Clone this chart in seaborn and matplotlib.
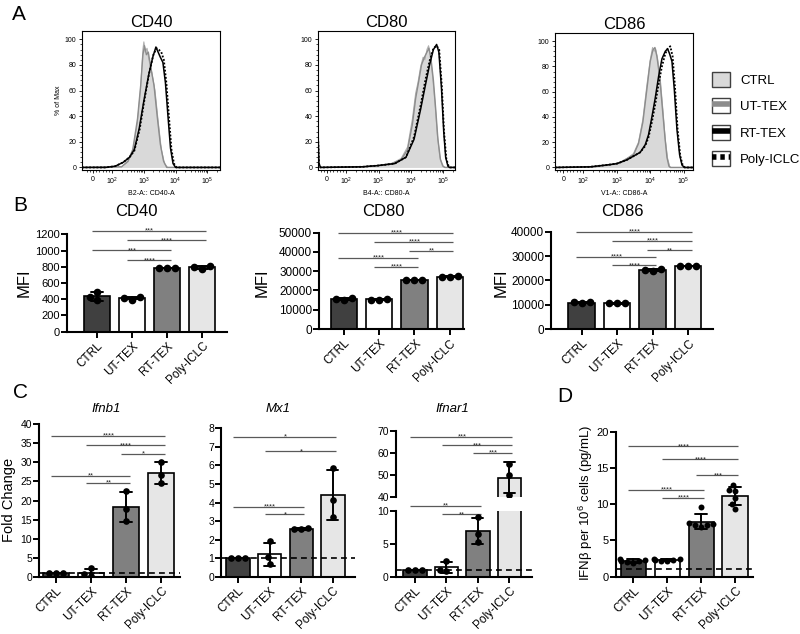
import numpy as np
import pandas as pd
import matplotlib
matplotlib.use('Agg')
import matplotlib.pyplot as plt
import seaborn as sns
from matplotlib.patches import Patch
from matplotlib.lines import Line2D
from matplotlib.legend_handler import HandlerTuple

# groups and colours
groups = ['CTRL', 'UT-TEX', 'RT-TEX', 'Poly-ICLC']
bar_colors = ['#404040', '#ffffff', '#808080', '#e6e6e6']

# A: flow histograms, (log10 position, % of max); 0 sits at ~1.4
cd40_ctrl = [(1.05, 0), (2.3, 0.5), (2.5, 4), (2.65, 12), (2.8, 35), (2.9, 62), (2.97, 92), (3.0, 98), (3.04, 90),
             (3.1, 93), (3.16, 84), (3.25, 74), (3.35, 60), (3.45, 36), (3.55, 14), (3.65, 3), (3.75, 0), (5.4, 0)]
cd40_ut = [(1.05, 0), (2.3, 0.5), (2.5, 5), (2.65, 14), (2.8, 38), (2.9, 64), (2.97, 88), (3.02, 95), (3.08, 88),
           (3.14, 90), (3.22, 78), (3.32, 64), (3.42, 40), (3.52, 18), (3.62, 5), (3.72, 0), (5.4, 0)]
cd40_rt = [(1.05, 0), (1.8, 0), (2.1, 1), (2.35, 4), (2.55, 8), (2.7, 14), (2.85, 30), (3.0, 52), (3.15, 72),
           (3.28, 86), (3.38, 94), (3.45, 90), (3.52, 86), (3.6, 82), (3.68, 66), (3.76, 40), (3.84, 15),
           (3.92, 3), (4.0, 0), (5.4, 0)]
cd40_poly = [(1.05, 0), (1.8, 0), (2.1, 1), (2.35, 4), (2.55, 8), (2.7, 13), (2.87, 30), (3.02, 53), (3.17, 74),
             (3.3, 88), (3.4, 93), (3.47, 92), (3.55, 90), (3.63, 84), (3.71, 66), (3.79, 40), (3.87, 14),
             (3.95, 3), (4.03, 0), (5.4, 0)]

cd80_ctrl = [(1.12, 0), (2.5, 0.5), (3.0, 1.5), (3.4, 3), (3.7, 7), (3.9, 16), (4.05, 38), (4.15, 58), (4.22, 66),
             (4.3, 78), (4.38, 86), (4.44, 84), (4.5, 92), (4.55, 95), (4.6, 88), (4.68, 70), (4.75, 50),
             (4.82, 26), (4.9, 8), (4.98, 1), (5.05, 0), (5.37, 0)]
cd80_ut = [(1.12, 0), (2.5, 0.5), (3.0, 1.5), (3.4, 3), (3.7, 6), (3.9, 14), (4.05, 34), (4.15, 54), (4.25, 68),
           (4.33, 80), (4.42, 86), (4.5, 90), (4.56, 93), (4.62, 86), (4.7, 68), (4.77, 46), (4.84, 22),
           (4.92, 6), (5.0, 1), (5.06, 0), (5.37, 0)]
cd80_rt = [(1.12, 28), (1.15, 3), (1.2, 0), (2.5, 0.5), (3.0, 1.5), (3.5, 3), (3.85, 8), (4.1, 22), (4.3, 45),
           (4.45, 64), (4.58, 80), (4.7, 92), (4.8, 96), (4.87, 90), (4.95, 62), (5.02, 28), (5.08, 8),
           (5.15, 1), (5.2, 0), (5.37, 0)]
cd80_poly = [(1.12, 26), (1.15, 3), (1.2, 0), (2.5, 0.5), (3.0, 1.5), (3.5, 3), (3.85, 8), (4.1, 24), (4.3, 48),
             (4.45, 68), (4.58, 83), (4.7, 93), (4.8, 95), (4.88, 92), (4.96, 64), (5.03, 28), (5.1, 7),
             (5.17, 1), (5.22, 0), (5.37, 0)]

cd86_ctrl = [(1.15, 0), (2.3, 0.5), (2.8, 2), (3.1, 4), (3.3, 7), (3.5, 11), (3.65, 20), (3.78, 38), (3.9, 65),
             (4.0, 85), (4.07, 95), (4.12, 92), (4.16, 94), (4.22, 86), (4.3, 70), (4.38, 45), (4.45, 22),
             (4.52, 7), (4.58, 1), (4.62, 0), (5.28, 0)]
cd86_ut = [(1.15, 0), (2.3, 0.5), (2.8, 2), (3.1, 4), (3.3, 7), (3.5, 10), (3.65, 19), (3.78, 36), (3.9, 62),
           (4.0, 84), (4.08, 93), (4.14, 95), (4.2, 88), (4.28, 72), (4.36, 48), (4.44, 24), (4.5, 8),
           (4.56, 1), (4.6, 0), (5.28, 0)]
cd86_rt = [(1.15, 0), (2.2, 0.5), (2.7, 2), (3.0, 3), (3.3, 6), (3.5, 9), (3.7, 12), (3.85, 18), (3.95, 26),
           (4.05, 40), (4.15, 55), (4.25, 72), (4.35, 86), (4.45, 92), (4.52, 94), (4.58, 90), (4.65, 84),
           (4.72, 62), (4.8, 30), (4.88, 10), (4.95, 2), (5.02, 0), (5.28, 0)]
cd86_poly = [(1.15, 0), (2.2, 0.5), (2.7, 2), (3.0, 3), (3.3, 6), (3.5, 9), (3.7, 12), (3.85, 17), (3.95, 24),
             (4.05, 36), (4.15, 50), (4.25, 66), (4.35, 80), (4.45, 90), (4.52, 94), (4.6, 96), (4.67, 88),
             (4.74, 64), (4.82, 30), (4.9, 9), (4.97, 2), (5.04, 0), (5.28, 0)]

# B: MFI replicates
cd40_mfi = [[495, 390, 425], [425, 395, 420], [785, 780, 782], [805, 775, 800]]
cd80_mfi = [[16200, 15200, 15600], [15200, 15100, 15800], [25600, 25300, 25500], [27300, 26900, 27100]]
cd86_mfi = [[11000, 10700, 10900], [10500, 10500, 10600], [24500, 24000, 24400], [26000, 25800, 25900]]

# C: fold change
ifnb1_fc = [[1.0, 1.0, 1.0], [2.2, 0.6, 0.3], [22.4, 17.7, 14.7], [30.2, 26.7, 24.7]]
mx1_fc = [[1.0, 1.0, 1.0], [1.9, 1.05, 0.7], [2.65, 2.55, 2.55], [5.85, 4.15, 3.2]]
ifnar1_fc = [[1.0, 1.0, 1.0], [2.4, 1.0, 0.8], [9.0, 6.45, 5.2], [55.0, 50.0, 41.2]]

# D: IFNb per 10^6 cells
ifnb_pg = [[2.5, 2.3, 2.1, 1.9, 2.0, 2.2], [2.4, 2.3, 2.2, 2.3, 2.4, 2.2],
           [9.6, 7.4, 7.3, 7.1, 6.9, 7.2], [12.6, 11.9, 11.8, 10.9, 10.0, 9.3]]

# significance bars: (group i, group j, height, label)
cd40_sig = [(0, 3, 1245, '***'), (1, 3, 1130, '****'), (0, 2, 1003, '***'), (1, 2, 884, '****')]
cd80_sig = [(0, 3, 50000, '****'), (1, 3, 45340, '****'), (2, 3, 40690, '**'), (0, 2, 37070, '****'),
            (1, 2, 32410, '****')]
cd86_sig = [(0, 3, 40000, '****'), (1, 3, 36300, '****'), (2, 3, 32500, '**'), (0, 2, 29760, '****'),
            (1, 2, 26340, '****')]
ifnb1_sig = [(0, 3, 37.0, '****'), (1, 3, 34.5, '****'), (2, 3, 32.3, '*'), (0, 2, 26.5, '**'), (1, 2, 24.7, '**')]
mx1_sig = [(0, 3, 7.55, '*'), (1, 3, 6.78, '*'), (0, 2, 3.78, '****'), (1, 2, 3.36, '*')]
ifnar1_sig_hi = [(0, 3, 67.3, '***'), (1, 3, 63.4, '***'), (2, 3, 60.1, '***')]
ifnar1_sig_lo = [(0, 2, 10.76, '**'), (1, 2, 9.45, '**')]
ifnb_pg_sig = [(0, 3, 18.0, '****'), (1, 3, 16.2, '****'), (2, 3, 14.0, '***'), (0, 2, 12.0, '****'),
               (1, 2, 10.9, '****')]

sns.set_style('ticks')
plt.rcParams['font.family'] = ['Liberation Sans', 'DejaVu Sans']
plt.rcParams['mathtext.fontset'] = 'custom'
plt.rcParams['mathtext.rm'] = 'Liberation Sans'
plt.rcParams['mathtext.it'] = 'Liberation Sans:italic'
for k in ['axes.edgecolor', 'xtick.color', 'ytick.color', 'text.color', 'axes.labelcolor']:
    plt.rcParams[k] = 'black'

W, H = 800, 634
fig = plt.figure(figsize=(8, 6.34), dpi=100)


def px_axes(l, r, t, b):
    return fig.add_axes([l / W, 1 - b / H, (r - l) / W, (b - t) / H])


def ftext(x, y, s, **kw):
    fig.text(x / W, 1 - y / H, s, **kw)


# ---------- A: histograms ----------
def hist_panel(box, curves, title, xlabel, xlim, show_ylabel=False):
    ax = px_axes(*box)
    ctrl, ut, rt, poly = [np.array(c, dtype=float) for c in curves]
    ax.fill_between(ctrl[:, 0], ctrl[:, 1], color='#d9d9d9', lw=0)
    ax.plot(ctrl[:, 0], ctrl[:, 1], color='#b0b0b0', lw=0.8)
    ax.plot(ut[:, 0], ut[:, 1], color='#8c8c8c', lw=1.0)
    ax.plot(poly[:, 0], poly[:, 1], color='black', lw=1.3, ls=(0, (1, 1)))
    ax.plot(rt[:, 0], rt[:, 1], color='black', lw=1.1)
    ax.set_xlim(*xlim)
    ax.set_ylim(-2, 106.5)
    ax.set_yticks([0, 20, 40, 60, 80, 100])
    ax.set_yticks(np.arange(0, 101, 4), minor=True)
    ax.set_xticks([1.4, 2, 3, 4, 5])
    ax.set_xticklabels(['0', r'$\mathregular{10^2}$', r'$\mathregular{10^3}$',
                        r'$\mathregular{10^4}$', r'$\mathregular{10^5}$'])
    minor = [d + np.log10(k) for d in range(2, 5) for k in range(2, 10)]
    minor += [1.2, 1.3, 1.5, 1.6, 1.7, 1.8, 1.9, 5 + np.log10(2), 5 + np.log10(3)]
    ax.set_xticks([m for m in minor if xlim[0] < m < xlim[1]], minor=True)
    ax.tick_params(labelsize=5, length=2.5, width=0.6, pad=1.5)
    ax.tick_params(which='minor', length=1.5, width=0.5)
    for s in ax.spines.values():
        s.set_linewidth(0.8)
    ax.set_xlabel(xlabel, fontsize=5, labelpad=2)
    if show_ylabel:
        ax.set_ylabel('% of Max', fontsize=5, labelpad=2)
    ax.set_title(title, fontsize=12, pad=3)
    return ax


hist_panel((82, 220, 31, 170), [cd40_ctrl, cd40_ut, cd40_rt, cd40_poly], 'CD40', 'B2-A:: CD40-A',
           (1.05, 5.4), show_ylabel=True)
hist_panel((318, 455, 31, 170), [cd80_ctrl, cd80_ut, cd80_rt, cd80_poly], 'CD80', 'B4-A:: CD80-A',
           (1.12, 5.37))
hist_panel((555, 693, 33, 170), [cd86_ctrl, cd86_ut, cd86_rt, cd86_poly], 'CD86', 'V1-A:: CD86-A',
           (1.15, 5.28))

box_patch = dict(fc='white', ec='#404040', lw=1)
band = dict(lw=4, solid_capstyle='butt', dash_capstyle='butt')
handles = [Patch(fc='#d9d9d9', ec='#404040', lw=1),
           (Patch(**box_patch), Line2D([], [], color='#8c8c8c', **band)),
           (Patch(**box_patch), Line2D([], [], color='black', **band)),
           (Patch(**box_patch), Line2D([], [], color='black', ls=(0, (0.8, 0.7)), **band))]
fig.legend(handles, groups, loc='upper left', bbox_to_anchor=(712 / W, 1 - 72 / H), frameon=False,
           fontsize=9.5, handlelength=1.4, handleheight=1.35, handletextpad=0.75, labelspacing=0.88,
           borderpad=0, borderaxespad=0, handler_map={tuple: HandlerTuple(ndivide=1, pad=0)})


# ---------- bar panels ----------
def add_sig(ax, sig):
    for i, j, y, label in sig:
        ax.plot([i - 0.15, j + 0.1], [y, y], color='#595959', lw=0.9, clip_on=False,
                solid_capstyle='butt')
        ax.annotate(label, xy=((i + j) / 2, y), xytext=(0, -1.5), textcoords='offset points',
                    ha='center', va='baseline', fontsize=5.5, color='#262626', annotation_clip=False)


def bar_panel(box, vals, ylim, yticks, xlim, sig, dot, ytick_size=7.5, xtick_size=8.5, show_x=True,
              ref_line=False):
    ax = px_axes(*box)
    df = pd.DataFrame({'group': np.repeat(groups, [len(v) for v in vals]),
                       'value': np.concatenate(vals)})
    sns.barplot(data=df, x='group', y='value', hue='group', order=groups, hue_order=groups,
                palette=dict(zip(groups, bar_colors)), errorbar='sd', capsize=0.35, width=0.74,
                edgecolor='black', linewidth=1.2, err_kws={'color': 'black', 'linewidth': 1.4},
                legend=False, ax=ax)
    sns.swarmplot(data=df, x='group', y='value', order=groups, color='black', size=dot, ax=ax,
                  zorder=4)
    ax.set_xlim(*xlim)
    ax.set_ylim(*ylim)
    ax.spines[['top', 'right']].set_visible(False)
    ax.spines['left'].set_bounds(yticks[0], yticks[-1])
    for s in ['left', 'bottom']:
        ax.spines[s].set_linewidth(1.5)
    ax.set_yticks(yticks)
    ax.tick_params(axis='y', labelsize=ytick_size, length=4, width=1.4, pad=1)
    ax.set_xlabel('')
    ax.set_ylabel('')
    if show_x:
        ax.set_xticks(range(4))
        ax.set_xticklabels(groups, rotation=45, ha='right', rotation_mode='anchor')
        ax.tick_params(axis='x', labelsize=xtick_size, length=4, width=1.4, pad=2)
    else:
        ax.spines['bottom'].set_visible(False)
        ax.set_xticks([])
    if ref_line:
        ax.axhline(1, color='black', lw=1.2, ls=(0, (3.5, 2.5)), zorder=6)
    add_sig(ax, sig)
    return ax


# B
bar_panel((67, 227, 226.2, 331.7), cd40_mfi, (0, 1300), list(range(0, 1201, 200)), (-0.86, 3.71),
          cd40_sig, 5.5, ytick_size=8)
bar_panel((319, 464, 228.8, 329), cd80_mfi, (0, 52000), list(range(0, 50001, 10000)), (-0.7, 3.4),
          cd80_sig, 5.5, ytick_size=8.5)
bar_panel((551, 713, 229.3, 329), cd86_mfi, (0, 41000), list(range(0, 40001, 10000)), (-0.86, 3.7),
          cd86_sig, 5.5, ytick_size=8.5)
for x, t in [(136, 'CD40'), (383, 'CD80'), (622, 'CD86')]:
    ftext(x, 216.5, t, fontsize=12, ha='center', va='baseline')
for x in [24, 262, 501]:
    ftext(x, 283, 'MFI', fontsize=12, rotation=90, ha='center', va='center')

# C
bar_panel((39, 180, 420.5, 576.7), ifnb1_fc, (0, 41), list(range(0, 41, 5)), (-0.49, 3.54),
          ifnb1_sig, 4.8, ref_line=True)
bar_panel((221, 355, 424.6, 576.7), mx1_fc, (0, 8.2), list(range(0, 9)), (-0.54, 3.7),
          mx1_sig, 4.8, ref_line=True)
bar_panel((395.7, 531.7, 510.7, 576.7), ifnar1_fc, (0, 10), [0, 5, 10], (-0.61, 3.71),
          ifnar1_sig_lo, 4.8, ref_line=True)
bar_panel((395.7, 531.7, 426.3, 497.3), ifnar1_fc, (40, 72), [40, 50, 60, 70], (-0.61, 3.71),
          ifnar1_sig_hi, 4.8, show_x=False)
for x, t in [(106, 'Ifnb1'), (278, 'Mx1'), (452, 'Ifnar1')]:
    ftext(x, 411.5, t, fontsize=9.5, style='italic', ha='center', va='baseline')
ftext(9, 500, 'Fold Change', fontsize=10.5, rotation=90, ha='center', va='center')

# D
bar_panel((615.7, 753.3, 428.1, 576.7), ifnb_pg, (0, 20.5), [0, 5, 10, 15, 20], (-0.52, 3.54),
          ifnb_pg_sig, 4.3, ytick_size=8, ref_line=True)
ftext(586, 503, r'IFNβ per 10$\mathregular{^6}$ cells (pg/mL)', fontsize=9.5, rotation=90,
      ha='center', va='center')

# panel letters
for x, y, t in [(12, 20, 'A'), (13, 211, 'B'), (13, 398, 'C'), (557, 402, 'D')]:
    ftext(x, y, t, fontsize=15, va='baseline')

fig.savefig('out.png', dpi=100)
